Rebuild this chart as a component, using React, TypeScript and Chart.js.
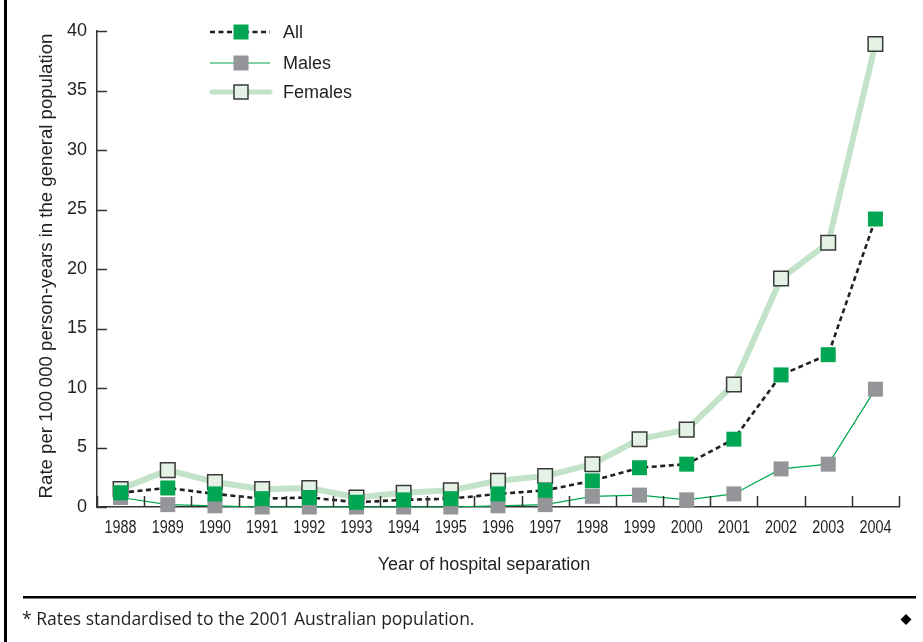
import React, { useEffect, useRef } from "react";
import { Chart, registerables } from "chart.js";

Chart.register(...registerables);

const years = ["1988","1989","1990","1991","1992","1993","1994","1995","1996","1997","1998","1999","2000","2001","2002","2003","2004"];
const allRates = [1.2, 1.6, 1.1, 0.7, 0.8, 0.4, 0.6, 0.7, 1.1, 1.4, 2.2, 3.3, 3.6, 5.7, 11.1, 12.8, 24.2];
const maleRates = [0.8, 0.2, 0.1, 0.0, 0.0, 0.0, 0.0, 0.0, 0.1, 0.2, 0.9, 1.0, 0.6, 1.1, 3.2, 3.6, 9.9];
const femaleRates = [1.5, 3.1, 2.1, 1.5, 1.6, 0.8, 1.2, 1.4, 2.2, 2.6, 3.6, 5.7, 6.5, 10.3, 19.2, 22.2, 38.9];
const yTicks = [0, 5, 10, 15, 20, 25, 30, 35, 40];
const legendLabels = ["All", "Males", "Females"];
const yTitle = "Rate per 100\u2009000 person-years in the general population";
const xTitle = "Year of hospital separation";
const footnote = "* Rates standardised to the 2001 Australian population.";

const GREEN = "#00a651";
const GREY = "#939598";
const PALE_LINE = "#c2e3c8";
const PALE_FILL = "#e3f2e5";
const DARK = "#231f20";
const SANS = "'Liberation Sans', Arial, sans-serif";

const decorPlugin = {
  id: "decor",
  afterDraw(chart: any) {
    const ctx = chart.ctx as CanvasRenderingContext2D;
    const xs = chart.scales.x;
    const ys = chart.scales.y;
    const ca = chart.chartArea;
    ctx.save();
    // inside tick marks on y axis
    ctx.strokeStyle = "#333";
    ctx.lineWidth = 1.5;
    yTicks.forEach((v) => {
      const y = Math.round(ys.getPixelForValue(v)) + 0.5;
      ctx.beginPath();
      ctx.moveTo(ca.left, y);
      ctx.lineTo(ca.left + 10, y);
      ctx.stroke();
    });
    // x tick marks at category boundaries
    const n = years.length;
    for (let i = 0; i <= n; i++) {
      let x: number;
      if (i === 0) x = ca.left;
      else if (i === n) x = ca.right;
      else x = (xs.getPixelForValue(i - 1) + xs.getPixelForValue(i)) / 2;
      x = Math.round(x) + 0.5;
      ctx.beginPath();
      ctx.moveTo(x, ca.bottom);
      ctx.lineTo(x, ca.bottom - 11);
      ctx.stroke();
    }
    // condensed x tick labels
    ctx.fillStyle = DARK;
    ctx.font = "18px " + SANS;
    ctx.textAlign = "center";
    ctx.textBaseline = "alphabetic";
    years.forEach((t, i) => {
      const x = xs.getPixelForValue(i);
      ctx.save();
      ctx.translate(x, 533);
      ctx.scale(0.8, 1);
      ctx.fillText(t, 0, 0);
      ctx.restore();
    });
    // axis titles
    ctx.font = "18px " + SANS;
    ctx.textAlign = "center";
    ctx.textBaseline = "middle";
    ctx.fillText(xTitle, 484, 565);
    ctx.save();
    ctx.translate(46.5, 266);
    ctx.rotate(-Math.PI / 2);
    ctx.font = "18.6px " + SANS;
    ctx.fillText(yTitle, 0, 0);
    ctx.restore();

    // legend
    const lx0 = 210, lx1 = 270, mx = 241, tx = 283;
    const rows = [32, 63, 92];
    ctx.save();
    ctx.strokeStyle = DARK;
    ctx.lineWidth = 2.5;
    ctx.setLineDash([5, 3.5]);
    ctx.beginPath();
    ctx.moveTo(lx0, rows[0]);
    ctx.lineTo(lx1, rows[0]);
    ctx.stroke();
    ctx.restore();
    ctx.fillStyle = GREEN;
    ctx.fillRect(mx - 7.5, rows[0] - 7.5, 15, 15);
    ctx.strokeStyle = GREEN;
    ctx.lineWidth = 1.2;
    ctx.beginPath();
    ctx.moveTo(lx0, rows[1]);
    ctx.lineTo(lx1, rows[1]);
    ctx.stroke();
    ctx.fillStyle = GREY;
    ctx.fillRect(mx - 7.5, rows[1] - 7.5, 15, 15);
    ctx.save();
    ctx.strokeStyle = PALE_LINE;
    ctx.lineWidth = 5;
    ctx.lineCap = "round";
    ctx.beginPath();
    ctx.moveTo(lx0 + 2, rows[2]);
    ctx.lineTo(lx1, rows[2]);
    ctx.stroke();
    ctx.restore();
    ctx.fillStyle = PALE_FILL;
    ctx.fillRect(mx - 7, rows[2] - 7, 14, 14);
    ctx.strokeStyle = "#3a3a3a";
    ctx.lineWidth = 1.5;
    ctx.strokeRect(mx - 7, rows[2] - 7, 14, 14);

    ctx.fillStyle = DARK;
    ctx.font = "18px " + SANS;
    ctx.textAlign = "left";
    ctx.textBaseline = "middle";
    legendLabels.forEach((t, i) => ctx.fillText(t, tx, rows[i] + 1));

    // frame: left border, rule, footnote, diamond
    ctx.fillStyle = "#000";
    ctx.fillRect(4, 0, 3, 642);
    ctx.fillRect(23, 596, 893, 2.5);
    ctx.fillStyle = DARK;
    ctx.font = "17.5px 'Open Sans', sans-serif";
    ctx.textAlign = "left";
    ctx.textBaseline = "middle";
    ctx.fillText(footnote, 22, 620);
    ctx.fillStyle = "#000";
    ctx.beginPath();
    ctx.moveTo(906, 614);
    ctx.lineTo(911.5, 619.5);
    ctx.lineTo(906, 625);
    ctx.lineTo(900.5, 619.5);
    ctx.closePath();
    ctx.fill();
    ctx.restore();
  },
};

export default function App() {
  const ref = useRef<HTMLCanvasElement>(null);
  useEffect(() => {
    const canvas = ref.current!;
    const chart = new Chart(canvas, {
      type: "line",
      data: {
        labels: years,
        datasets: [
          {
            label: legendLabels[0],
            data: allRates,
            borderColor: DARK,
            borderWidth: 2.6,
            borderDash: [5, 3.5],
            pointStyle: "rect",
            pointRadius: 10.6,
            pointBackgroundColor: GREEN,
            pointBorderWidth: 0,
            pointBorderColor: GREEN,
            tension: 0,
            clip: false as any,
          },
          {
            label: legendLabels[1],
            data: maleRates,
            borderColor: GREEN,
            borderWidth: 1.2,
            pointStyle: "rect",
            pointRadius: 10.6,
            pointBackgroundColor: GREY,
            pointBorderWidth: 0,
            pointBorderColor: GREY,
            tension: 0,
            clip: false as any,
          },
          {
            label: legendLabels[2],
            data: femaleRates,
            borderColor: PALE_LINE,
            borderWidth: 6,
            pointStyle: "rect",
            pointRadius: 10.3,
            pointBackgroundColor: PALE_FILL,
            pointBorderWidth: 1.5,
            pointBorderColor: "#3a3a3a",
            tension: 0,
            clip: false as any,
          },
        ],
      },
      options: {
        animation: false,
        responsive: false,
        devicePixelRatio: 1,
        layout: { padding: { left: 0, top: 31, right: 24, bottom: 0 } },
        plugins: { legend: { display: false }, tooltip: { enabled: false } },
        scales: {
          x: {
            type: "category",
            offset: true,
            grid: { display: true, drawOnChartArea: false, drawTicks: false },
            border: { display: true, color: "#333", width: 1.5 },
            ticks: { display: false, autoSkip: false, maxRotation: 0 },
            afterFit: (s: any) => { s.height = 135; },
          },
          y: {
            min: 0,
            max: 40,
            grid: { display: true, drawOnChartArea: false, drawTicks: false },
            border: { display: true, color: "#333", width: 1.5 },
            ticks: {
              stepSize: 5,
              padding: 10,
              color: DARK,
              font: { family: SANS, size: 18 },
            },
            afterFit: (s: any) => { s.width = 97; },
          },
        },
      },
      plugins: [decorPlugin],
    });
    return () => chart.destroy();
  }, []);
  return (
    <div style={{ position: "absolute", left: 0, top: 0, width: 923, height: 642, background: "#fff" }}>
      <canvas ref={ref} width={923} height={642} style={{ width: 923, height: 642, display: "block" }} />
    </div>
  );
}
